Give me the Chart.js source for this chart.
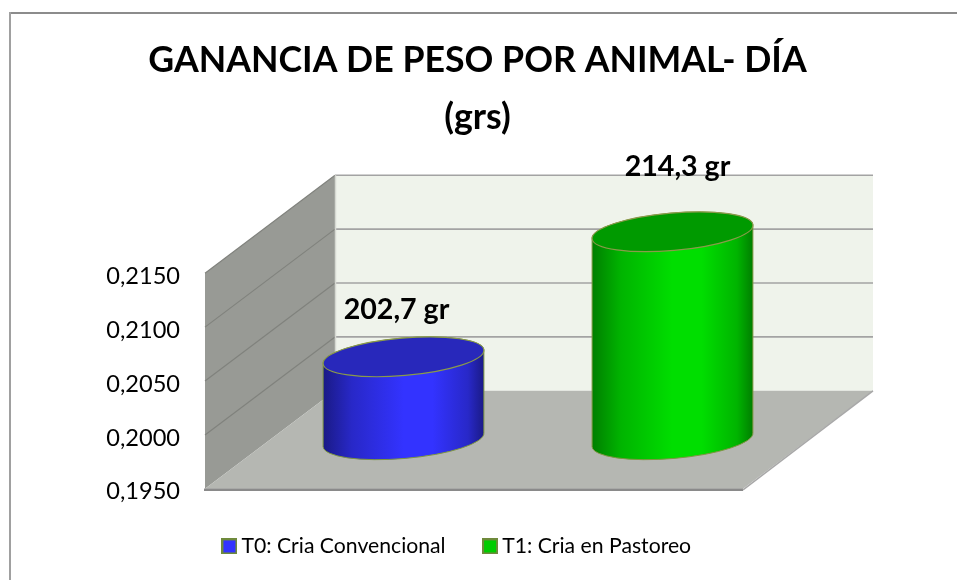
<!DOCTYPE html>
<html><head><meta charset="utf-8">
<style>html,body{margin:0;padding:0;background:#fff}canvas{display:block}</style>
<script src="https://cdn.jsdelivr.net/npm/chart.js@4"></script>
</head><body>
<div style="position:relative;width:957px;height:580px"><canvas id="c"></canvas></div>
<script>
const categories = ['T0: Cria Convencional', 'T1: Cria en Pastoreo'];
const values = [0.2027, 0.2143];
const valueLabels = ['202,7 gr', '214,3 gr'];
const tickValues = [0.195, 0.2, 0.205, 0.21, 0.215];
const titleLines = ['GANANCIA DE PESO POR ANIMAL- DÍA', '(grs)'];
const barColors = ['#3333ff', '#00cc00'];

const FONT = 'Lato, Carlito, Calibri, sans-serif';
const DEPTH_X = 130, DEPTH_Y = -98;
const themes = [
  {edge:'#1a1a85', side:'#2828c8', mid:'#3333ff', cap:'#2828bb'},
  {edge:'#007e00', side:'#00b400', mid:'#00de00', cap:'#009a00'}
];
const labelShift = [[-7,-47],[5,-65]];

function legendSwatch(color){
  const c = document.createElement('canvas'); c.width = 16; c.height = 16;
  const x = c.getContext('2d');
  x.fillStyle = '#6f8a3c'; x.fillRect(0,0,16,16);
  x.fillStyle = color; x.fillRect(2,2,12,12);
  return c;
}

const scene3d = {
  id:'scene3d',
  afterLayout(chart){
    const lg = chart.legend, t = chart.titleBlock;
    lg.left += 88; lg.right += 88; lg.top += 4; lg.bottom += 4;
    t.left += 106; t.right += 106;
  },
  beforeDraw(chart){
    const ctx = chart.ctx;
    ctx.save();
    ctx.fillStyle = '#8c8c8c';
    ctx.fillRect(9,12,948,2);
    ctx.fillStyle = '#a0a0a0';
    ctx.fillRect(9,12,2,568);
    ctx.restore();
  },
  beforeDatasetsDraw(chart){
    const ctx = chart.ctx, a = chart.chartArea, y = chart.scales.y;
    const L=a.left, R=a.right, T=a.top, B=a.bottom;
    ctx.save();
    ctx.fillStyle = '#eff3eb';
    ctx.fillRect(L+DEPTH_X, T+DEPTH_Y, R-L, B-T);
    ctx.fillStyle = '#989a95';
    ctx.beginPath();ctx.moveTo(L,T);ctx.lineTo(L+DEPTH_X,T+DEPTH_Y);ctx.lineTo(L+DEPTH_X,B+DEPTH_Y);ctx.lineTo(L,B);ctx.closePath();ctx.fill();
    ctx.fillStyle = '#b5b7b2';
    ctx.beginPath();ctx.moveTo(L,B);ctx.lineTo(R,B);ctx.lineTo(R+DEPTH_X,B+DEPTH_Y);ctx.lineTo(L+DEPTH_X,B+DEPTH_Y);ctx.closePath();ctx.fill();
    tickValues.forEach((v,i)=>{
      const py = y.getPixelForValue(v);
      ctx.lineWidth = 1.2; ctx.strokeStyle = '#80827d';
      if(i>0){
        ctx.beginPath();ctx.moveTo(L,py);ctx.lineTo(L+DEPTH_X,py+DEPTH_Y);ctx.stroke();
        ctx.lineWidth = 1.6; ctx.strokeStyle = '#a3a3a3';
        ctx.beginPath();ctx.moveTo(L+DEPTH_X,py+DEPTH_Y);ctx.lineTo(R+DEPTH_X,py+DEPTH_Y);ctx.stroke();
      }
    });
    ctx.strokeStyle='#d6d8d2';ctx.lineWidth=1.5;
    ctx.beginPath();ctx.moveTo(L+DEPTH_X+0.5,T+DEPTH_Y);ctx.lineTo(L+DEPTH_X+0.5,B+DEPTH_Y);ctx.stroke();
    ctx.strokeStyle='#8a8a8a';ctx.lineWidth=2.5;
    ctx.beginPath();ctx.moveTo(L-1,B+1);ctx.lineTo(R,B+1);ctx.stroke();
    ctx.strokeStyle='#a8a8a8';ctx.lineWidth=1.5;
    ctx.beginPath();ctx.moveTo(R,B+1);ctx.lineTo(R+DEPTH_X,B+DEPTH_Y);ctx.stroke();
    chart.getDatasetMeta(0).data.forEach((bar,i)=>{
      const th = themes[i];
      const cx = bar.x + DEPTH_X/2 - 1, top = bar.y + DEPTH_Y/2, base = bar.base + DEPTH_Y/2;
      const rx = bar.width/2, ry = 18.7, rot = -0.086;
      const g = ctx.createLinearGradient(cx-rx,0,cx+rx,0);
      g.addColorStop(0, th.edge); g.addColorStop(0.18, th.side); g.addColorStop(0.5, th.mid);
      g.addColorStop(0.68, th.mid); g.addColorStop(0.9, th.side); g.addColorStop(1, th.edge);
      ctx.beginPath();
      ctx.ellipse(cx,base,rx,ry,rot,0,Math.PI);
      ctx.ellipse(cx,top,rx,ry,rot,Math.PI,0);
      ctx.closePath();
      ctx.fillStyle = g; ctx.fill();
      ctx.strokeStyle = '#7d9640'; ctx.lineWidth = 1; ctx.stroke();
      ctx.beginPath();
      ctx.ellipse(cx,top,rx,ry,rot,0,Math.PI*2);
      ctx.fillStyle = th.cap; ctx.fill();
      ctx.strokeStyle = '#8a9a4a'; ctx.lineWidth = 1.2; ctx.stroke();
      ctx.fillStyle = '#000';
      ctx.font = 'bold 28.6px '+FONT;
      ctx.textAlign='center';ctx.textBaseline='middle';
      ctx.fillText(valueLabels[i], cx+labelShift[i][0], top+labelShift[i][1]);
    });
    ctx.restore();
    return false;
  }
};

new Chart(document.getElementById('c'),{
  type:'bar',
  data:{labels:categories,datasets:[{data:values,base:tickValues[0],backgroundColor:barColors,barPercentage:0.6,categoryPercentage:1}]},
  plugins:[scene3d],
  options:{
    responsive:true,maintainAspectRatio:false,animation:false,
    layout:{padding:{left:0,right:214,top:0,bottom:17}},
    plugins:{
      title:{display:true,text:titleLines,font:{family:FONT,size:35.7,weight:'bold',lineHeight:1.6},color:'#000',
        padding:{top:32,bottom:127}},
      legend:{position:'bottom',
        labels:{font:{family:FONT,size:21.2},color:'#000',usePointStyle:true,pointStyleWidth:3,boxHeight:16,padding:43,
          generateLabels(chart){
            return chart.data.labels.map((t,i)=>({text:t,pointStyle:legendSwatch(barColors[i]),fontColor:'#000',lineWidth:0,strokeStyle:'rgba(0,0,0,0)',fillStyle:barColors[i],datasetIndex:0,index:i}));
          }}
      },
      tooltip:{enabled:false}
    },
    scales:{
      x:{display:false},
      y:{min:0.195,max:0.215,
        afterFit(s){s.width=205;},
        afterBuildTicks(s){s.ticks=tickValues.map(v=>({value:v}));},
        grid:{display:false,drawTicks:false},border:{display:false},
        ticks:{padding:25,labelOffset:3,color:'#000',font:{family:FONT,size:23.6},
          callback:v=>v.toFixed(4).replace('.',',')}
      }
    }
  }
});
</script>
</body></html>
